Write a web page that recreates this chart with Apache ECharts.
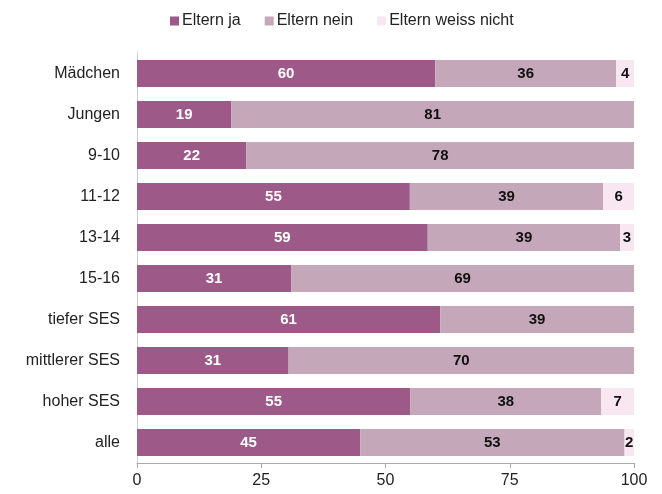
<!DOCTYPE html>
<html><head><meta charset="utf-8">
<script src="https://cdn.jsdelivr.net/npm/echarts@6/dist/echarts.min.js"></script>
<style>html,body{margin:0;padding:0;background:#fff}#c{width:662px;height:494px}</style>
</head><body><div id="c"></div>
<script>
var categories = ["Mädchen","Jungen","9-10","11-12","13-14","15-16","tiefer SES","mittlerer SES","hoher SES","alle"];
var elternJa = [60, 19, 22, 54.9, 58.5, 31, 61, 30.5, 55, 44.9];
var elternNein = [36.4, 81, 78, 38.9, 38.7, 69, 39, 69.5, 38.4, 53.2];
var elternWeissNicht = [3.6, 0, 0, 6.2, 2.8, 0, 0, 0, 6.6, 1.9];
var xTicks = [0, 25, 50, 75, 100];

var chart = echarts.init(document.getElementById('c'), null, {renderer:'canvas'});
var font = 'Liberation Sans, Arial, sans-serif';
function lbl(color){
  return {show:true, position:'inside', color:color, fontWeight:'bold', fontSize:15, fontFamily:font,
    formatter:function(p){ var v=Math.round(p.value); return v>0? String(v):''; }};
}
chart.setOption({
  animation:false,
  legend:{top:8, left:165, itemWidth:9, itemHeight:9, itemGap:24, icon:'rect',
    textStyle:{fontSize:16, fontFamily:font, color:'#222', padding:[0,0,0,-2]}},
  grid:{left:137, right:28, top:53, bottom:31, containLabel:false},
  xAxis:{type:'value', min:0, max:100, interval:25,
    axisLine:{show:true, lineStyle:{color:'#aaa'}},
    axisTick:{show:true, length:5, lineStyle:{color:'#aaa'}},
    splitLine:{show:false},
    axisLabel:{fontSize:16, fontFamily:font, color:'#222', margin:10,
      formatter:function(v){ return xTicks.indexOf(v)>=0? String(v):''; }}},
  yAxis:{type:'category', data:categories, inverse:true,
    axisLine:{show:true, lineStyle:{color:'#ccc'}},
    axisTick:{show:false},
    axisLabel:{fontSize:16, fontFamily:font, color:'#222', margin:17}},
  series:[
    {name:'Eltern ja', type:'bar', stack:'a', barWidth:27, data:elternJa,
     itemStyle:{color:'#9d5a89'}, label:lbl('#ffffff')},
    {name:'Eltern nein', type:'bar', stack:'a', barWidth:27, data:elternNein,
     itemStyle:{color:'#c4a8ba'}, label:lbl('#111111')},
    {name:'Eltern weiss nicht', type:'bar', stack:'a', barWidth:27, data:elternWeissNicht,
     itemStyle:{color:'#f8e6f0'}, label:lbl('#111111')}
  ]
});
</script></body></html>
